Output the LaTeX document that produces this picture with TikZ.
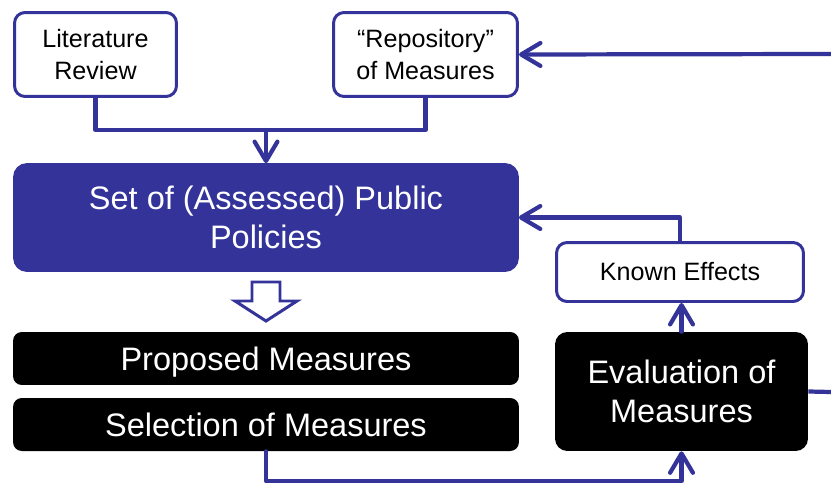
\documentclass[tikz,border=0pt]{standalone}
\usepackage{fontspec}
\setmainfont{Liberation Sans}
\usepackage{xcolor}
\usetikzlibrary{arrows.meta}
\definecolor{bleuNuit}{RGB}{51,51,153}

\begin{document}
\begin{tikzpicture}[x=0.02cm,y=-0.02cm]
% Styles (MODIFIABLES)
\tikzstyle{fleche}=[-{Straight Barb[length=11pt,width=13pt,round]},line width=2.4pt,draw=bleuNuit,line cap=round,line join=round]
\tikzstyle{ligne}=[line width=2.4pt,draw=bleuNuit,line join=round]
\tikzstyle{source}=[draw=bleuNuit,line width=1.7pt,fill=white,rounded corners=6pt,align=center,font=\fontsize{14.3}{17.8}\selectfont,minimum height=1.68cm]
\tikzstyle{ensemble}=[draw=bleuNuit,fill=bleuNuit,line width=1.6pt,rounded corners=7pt,text=white,align=center,font=\fontsize{18.5}{22}\selectfont]
\tikzstyle{etape}=[fill=black,rounded corners=5pt,text=white,align=center,font=\fontsize{18.5}{22}\selectfont]
\tikzstyle{barre}=[etape,minimum width=10.12cm,minimum height=1.06cm,text depth=0pt]
% Cadre
\useasboundingbox (0,0) rectangle (831,483);
% Noeuds (MODIFIABLES)
\node[source,minimum width=3.24cm] (lit) at (95.5,54.5) {Literature\\Review};
\node[source,minimum width=3.68cm] (repo) at (425.5,54.5) {“Repository”\\of Measures};
\node[ensemble,minimum width=10.06cm,minimum height=2.12cm] (set) at (266,217.5) {Set of (Assessed) Public\\Policies};
\node[barre] (proposed) at (266,358.5) {Proposed Measures};
\node[barre] (selection) at (266,424.5) {Selection of Measures};
\node[etape,minimum width=5.06cm,minimum height=2.38cm,rounded corners=7pt] (eval) at (681.5,391.5) {Evaluation of\\Measures};
\node[source,minimum width=4.94cm,minimum height=1.18cm] (known) at (680,272) {Known Effects};
% Points libres
\coordinate (jonction) at (266,130);
\coordinate (bordHaut) at (831,54);
\coordinate (bordDroit) at (831,392);
% Fleche creuse
\draw[draw=bleuNuit,line width=1.7pt,fill=white,line join=miter]
  (252,282) -- (280,282) -- (280,301) -- (297,301) -- (266,321)
  -- (235,301) -- (252,301) -- cycle;
% Arcs (MODIFIABLES)
\draw[ligne] (lit.south) |- (jonction) -| (repo.south);
\draw[fleche] (jonction) -- (set.north);
\draw[fleche] (bordHaut) -- (repo.east);
\draw[fleche] (known.north) |- (set.east);
\draw[fleche] (eval.north) -- (eval.north |- known.south);
\draw[fleche] (selection.south) -- ++(0,30) -| (eval.south);
\draw[ligne] (eval.east) -- (bordDroit);
\end{tikzpicture}
\end{document}
